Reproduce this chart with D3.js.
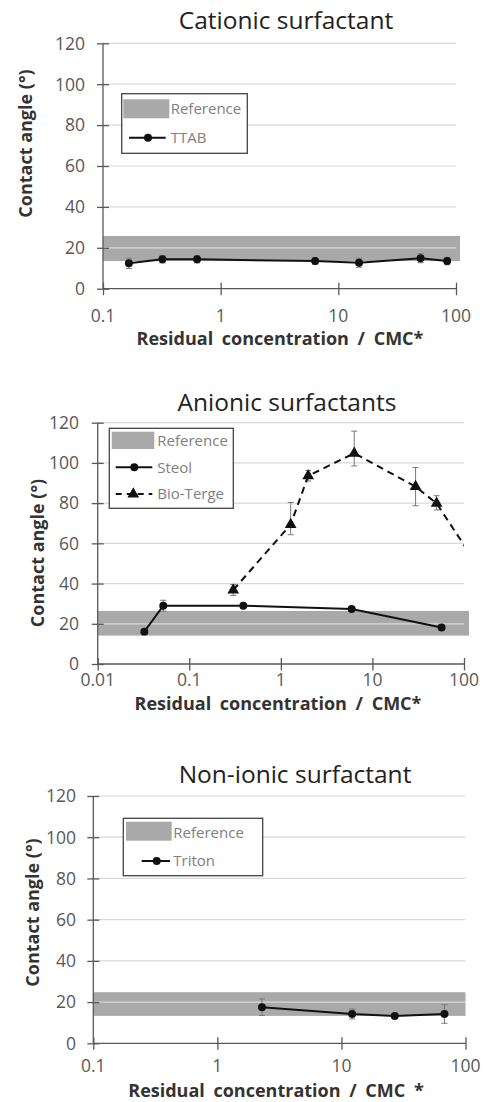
<!DOCTYPE html>
<html>
<head>
<meta charset="utf-8">
<script src="https://cdnjs.cloudflare.com/ajax/libs/d3/7.8.5/d3.min.js"></script>
<style>
  body { margin: 0; background: #fff; }
  svg { display: block; font-family: "Open Sans", sans-serif; }
</style>
</head>
<body>
<div id="chart"></div>
<script>
// ---- data ----
var yTicks = [0, 20, 40, 60, 80, 100, 120];
var xTicksCationic = [0.1, 1, 10, 100];
var xTicksAnionic = [0.01, 0.1, 1, 10, 100];
var xTicksNonionic = [0.1, 1, 10, 100];

var panelTitles = ["Cationic surfactant", "Anionic surfactants", "Non-ionic surfactant"];
var xLabels = ["Residual concentration / CMC*", "Residual concentration / CMC*", "Residual concentration / CMC *"];
var yLabel = "Contact angle (\u00b0)";

// reference band (min, max contact angle)
var refBandCationic = [13.5, 25.8];
var refBandAnionic = [14.1, 26.4];
var refBandNonionic = [13.3, 24.8];

var ttabConc = [0.166, 0.32, 0.63, 6.35, 15.0, 50.0, 84.1];
var ttabAngle = [12.4, 14.4, 14.4, 13.5, 12.7, 14.9, 13.5];
var ttabErr = [2.5, 1.8, 1.8, 1.5, 2.2, 2.2, 1.8];

var steolConc = [0.0323, 0.052, 0.389, 5.93, 56.9];
var steolAngle = [16.1, 29.0, 29.0, 27.3, 18.2];
var steolErr = [0.8, 2.7, 0.8, 0.8, 0.8];

// last Bio-Terge point lies past the axis end and is clipped, as in the figure
var bioConc = [0.302, 1.28, 1.99, 6.33, 29.6, 50.2, 150];
var bioAngle = [36.8, 69.3, 93.6, 104.8, 88.2, 79.9, 47];
var bioErrUp = [2.7, 11, 2.6, 11, 9.5, 3.8, 0];
var bioErrDown = [2.7, 5, 2.6, 6.3, 9.5, 3.3, 0];

var tritonConc = [2.29, 12.2, 26.9, 67.7];
var tritonAngle = [17.5, 14.2, 13.3, 14.2];
var tritonErr = [4, 2.4, 1, 4.5];

function zipSeries(xs, ys, up, down) {
  return xs.map(function(x, i) {
    return { x: x, y: ys[i], up: up[i], down: (down || up)[i] };
  });
}

var panels = [
  {
    title: panelTitles[0], xLabel: xLabels[0], xTicks: xTicksCationic, band: refBandCationic,
    xr: [103, 456], yr: [288.7, 43.3], bandOver: 4,
    titleAt: [286, 29], yLabelAt: [26, 143.5], xLabelAt: [280, 345], tickBase: 321.5, yTickRight: 85,
    legend: { x: 121.7, y: 93.7, w: 125.6, h: 59.6, sw: [123.3, 99.3, 46, 19], textX: 170.7, refY: 108.3,
              rows: [{ y: 137.7, x1: 129, x2: 165.7, mx: 148 }] },
    series: [{ name: "TTAB", data: zipSeries(ttabConc, ttabAngle, ttabErr), dash: null, symbol: d3.symbolCircle }]
  },
  {
    title: panelTitles[1], xLabel: xLabels[1], xTicks: xTicksAnionic, band: refBandAnionic,
    xr: [97.7, 464], yr: [664, 422.7], bandOver: 5,
    titleAt: [287, 411], yLabelAt: [37.5, 553], xLabelAt: [278, 709.5], tickBase: 686, yTickRight: 79,
    legend: { x: 109.3, y: 428.3, w: 124, h: 80, sw: [111.7, 431.7, 42.6, 17.3], textX: 157.3, refY: 440.7,
              rows: [{ y: 467.3, x1: 115.7, x2: 152.3, mx: 134.3 }, { y: 494, x1: 115.7, x2: 152.3, mx: 133.3 }] },
    series: [
      { name: "Steol", data: zipSeries(steolConc, steolAngle, steolErr), dash: null, symbol: d3.symbolCircle },
      { name: "Bio-Terge", data: zipSeries(bioConc, bioAngle, bioErrUp, bioErrDown), dash: "7,5", symbol: d3.symbolTriangle }
    ]
  },
  {
    title: panelTitles[2], xLabel: xLabels[2], xTicks: xTicksNonionic, band: refBandNonionic,
    xr: [93.3, 465.5], yr: [1043.3, 796], bandOver: 0,
    titleAt: [295, 782.7], yLabelAt: [33, 912.5], xLabelAt: [276, 1097], tickBase: 1072, yTickRight: 76,
    legend: { x: 123.3, y: 818.3, w: 139.4, h: 57.4, sw: [126, 821.7, 45.7, 19], textX: 173.3, refY: 832.3,
              rows: [{ y: 861, x1: 141.7, x2: 170, mx: 156.7 }] },
    series: [{ name: "Triton", data: zipSeries(tritonConc, tritonAngle, tritonErr), dash: null, symbol: d3.symbolCircle }]
  }
];

var axisColor = "#595959";
var gridColor = "#d9d9d9";
var bandColor = "#a9a9a9";
var lineColor = "#111";

var svg = d3.select("#chart").append("svg")
  .attr("width", 487)
  .attr("height", 1102);

panels.forEach(function(p, pi) {
  var x = d3.scaleLog().domain([p.xTicks[0], p.xTicks[p.xTicks.length - 1]]).range(p.xr);
  var y = d3.scaleLinear().domain([0, 120]).range(p.yr);
  var g = svg.append("g").attr("class", "panel" + pi);

  svg.append("clipPath").attr("id", "clip" + pi)
    .append("rect")
    .attr("x", p.xr[0] - 10).attr("y", p.yr[1] - 10)
    .attr("width", p.xr[1] - p.xr[0] + 10)
    .attr("height", p.yr[0] - p.yr[1] + 20);

  // reference band
  g.append("rect")
    .attr("x", p.xr[0])
    .attr("y", y(p.band[1]))
    .attr("width", p.xr[1] - p.xr[0] + p.bandOver)
    .attr("height", y(p.band[0]) - y(p.band[1]))
    .attr("fill", bandColor);

  // gridlines
  g.selectAll("line.grid").data(yTicks.slice(1)).enter()
    .append("line")
    .attr("class", "grid")
    .attr("x1", p.xr[0]).attr("x2", p.xr[1])
    .attr("y1", function(d) { return y(d); })
    .attr("y2", function(d) { return y(d); })
    .attr("stroke", gridColor)
    .attr("stroke-width", 1.2);

  // y axis, ticks crossing the line
  var yAxis = g.append("g").attr("transform", "translate(" + p.xr[0] + ",0)")
    .call(d3.axisLeft(y).tickValues(yTicks).tickSize(6).tickPadding(0).tickFormat(""));
  yAxis.selectAll(".tick line").attr("x2", 6).attr("x1", -6);
  yAxis.selectAll("line, path").attr("stroke", axisColor).attr("stroke-width", 1.3);
  yAxis.select(".domain").attr("d", "M0," + p.yr[0] + "V" + p.yr[1]);

  g.selectAll("text.ytick").data(yTicks).enter()
    .append("text")
    .attr("class", "ytick")
    .attr("x", p.yTickRight)
    .attr("y", function(d) { return y(d); })
    .attr("dy", "0.36em")
    .attr("text-anchor", "end")
    .attr("fill", axisColor)
    .style("font-size", "17.5px")
    .text(function(d) { return d; });

  // x axis
  var xAxis = g.append("g").attr("transform", "translate(0," + p.yr[0] + ")")
    .call(d3.axisBottom(x).tickValues(p.xTicks).tickSize(6).tickFormat(""));
  xAxis.selectAll(".tick line").attr("y1", -6).attr("y2", 6.5);
  xAxis.selectAll("line, path").attr("stroke", axisColor).attr("stroke-width", 1.3);
  xAxis.select(".domain").attr("d", "M" + p.xr[0] + ",0H" + p.xr[1]);

  g.selectAll("text.xtick").data(p.xTicks).enter()
    .append("text")
    .attr("class", "xtick")
    .attr("x", function(d) { return x(d); })
    .attr("y", p.tickBase)
    .attr("text-anchor", "middle")
    .attr("fill", axisColor)
    .style("font-size", "17.5px")
    .text(function(d) { return d3.format("~g")(d); });

  // title and axis labels
  g.append("text")
    .attr("x", p.titleAt[0]).attr("y", p.titleAt[1])
    .attr("text-anchor", "middle")
    .attr("fill", "#222")
    .style("font-size", "24.5px")
    .text(p.title);

  g.append("text")
    .attr("x", p.xLabelAt[0]).attr("y", p.xLabelAt[1])
    .attr("text-anchor", "middle")
    .attr("fill", "#333")
    .style("font-size", "18px")
    .style("font-weight", "bold")
    .style("word-spacing", "4px")
    .text(p.xLabel);

  g.append("text")
    .attr("transform", "translate(" + p.yLabelAt[0] + "," + p.yLabelAt[1] + ") rotate(-90)")
    .attr("text-anchor", "middle")
    .attr("dy", "0.35em")
    .attr("fill", "#333")
    .style("font-size", "18px")
    .style("font-weight", "bold")
    .text(yLabel);

  // series
  var plot = g.append("g").attr("clip-path", "url(#clip" + pi + ")");
  p.series.forEach(function(s) {
    var line = d3.line()
      .x(function(d) { return x(d.x); })
      .y(function(d) { return y(d.y); });

    var inside = s.data.filter(function(d) { return d.x <= x.domain()[1]; });

    plot.selectAll(null).data(inside).enter()
      .append("path")
      .attr("d", function(d) {
        var cx = x(d.x), t = y(d.y + d.up), b = y(d.y - d.down);
        return "M" + cx + "," + t + "V" + b + "M" + (cx - 3) + "," + t + "H" + (cx + 3) + "M" + (cx - 3) + "," + b + "H" + (cx + 3);
      })
      .attr("stroke", "#7a7a7a")
      .attr("stroke-width", 1)
      .attr("fill", "none");

    plot.append("path")
      .datum(s.data)
      .attr("d", line)
      .attr("fill", "none")
      .attr("stroke", lineColor)
      .attr("stroke-width", 2)
      .attr("stroke-dasharray", s.dash);

    plot.selectAll(null).data(inside).enter()
      .append("path")
      .attr("transform", function(d) { return "translate(" + x(d.x) + "," + y(d.y) + ")"; })
      .attr("d", d3.symbol().type(s.symbol).size(s.symbol === d3.symbolTriangle ? 60 : 50))
      .attr("fill", lineColor);
  });

  // legend
  var L = p.legend;
  var leg = g.append("g");
  leg.append("rect")
    .attr("x", L.x).attr("y", L.y).attr("width", L.w).attr("height", L.h)
    .attr("fill", "#fff").attr("stroke", "#444").attr("stroke-width", 1.3);
  leg.append("rect")
    .attr("x", L.sw[0]).attr("y", L.sw[1]).attr("width", L.sw[2]).attr("height", L.sw[3])
    .attr("fill", bandColor);
  leg.append("text")
    .attr("x", L.textX).attr("y", L.refY).attr("dy", "0.36em")
    .attr("fill", "#808080").style("font-size", "15px")
    .text("Reference");
  p.series.forEach(function(s, si) {
    var r = L.rows[si];
    leg.append("line")
      .attr("x1", r.x1).attr("x2", r.x2).attr("y1", r.y).attr("y2", r.y)
      .attr("stroke", lineColor).attr("stroke-width", 2)
      .attr("stroke-dasharray", s.dash ? "6,5" : null);
    leg.append("path")
      .attr("transform", "translate(" + r.mx + "," + r.y + ")")
      .attr("d", d3.symbol().type(s.symbol).size(s.symbol === d3.symbolTriangle ? 60 : 50))
      .attr("fill", lineColor);
    leg.append("text")
      .attr("x", L.textX).attr("y", r.y).attr("dy", "0.36em")
      .attr("fill", "#808080").style("font-size", "15px")
      .text(s.name);
  });
});
</script>
</body>
</html>
